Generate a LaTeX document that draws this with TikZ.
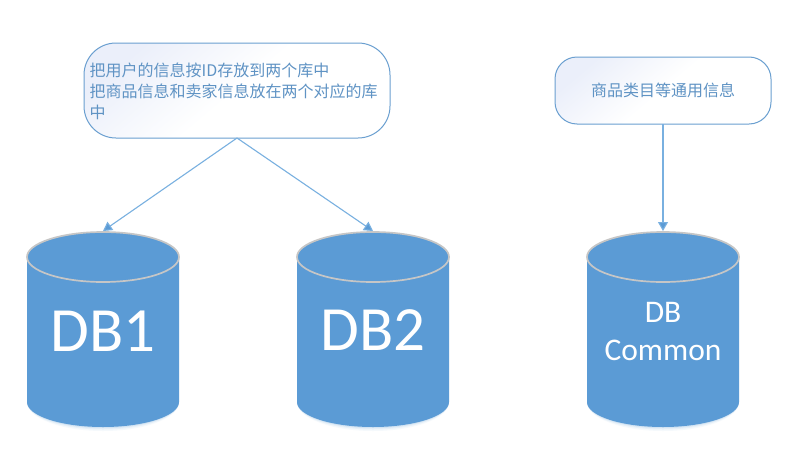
\documentclass[tikz,border=0pt]{standalone}
\usepackage{fontspec}
\setmainfont{Carlito}
\newfontfamily\cjk{Noto Sans CJK SC}
\usetikzlibrary{arrows.meta}
\definecolor{dbblue}{HTML}{5B9BD5}
\definecolor{boxtext}{HTML}{5F93C4}
\definecolor{boxedge}{HTML}{6A9FD0}
\definecolor{linkblue}{HTML}{79B0E0}
\definecolor{rimgrey}{HTML}{C6C6C6}
\definecolor{boxtint}{HTML}{EBEFFA}
\tikzset{
 x=1pt,y=-1pt,
 infobox/.style={draw=boxedge,line width=1pt,rounded corners=#1,top color=boxtint,bottom color=white,middle color=white,shading angle=40},
 boxlabel/.style={text=boxtext,font=\fontsize{16}{21}\selectfont\cjk,inner sep=0pt,align=left},
 dblabel/.style={text=white,inner sep=0pt,align=center},
 link/.style={draw=linkblue,line width=1.1pt,-{Triangle[length=9pt,width=10pt,fill=dbblue]}},
}
\newcommand{\dbcyl}[2]{%
 \foreach \g/\o in {4/0.06,2.5/0.09,1.2/0.14}{\fill[dbblue,opacity=\o] (#1-76,402) arc[x radius=76,y radius=25+\g,start angle=180,end angle=0] -- cycle;}
 \fill[dbblue] (#1-76,257) -- (#1-76,402) arc[x radius=76,y radius=25,start angle=180,end angle=0] -- (#1+76,257) -- cycle;
 \draw[rimgrey,fill=dbblue,line width=1.7pt] (#1,257) ellipse[x radius=76,y radius=25];
 \coordinate (#2) at (#1,231);
}
\begin{document}
\begin{tikzpicture}
\useasboundingbox (0,0) rectangle (802,463);
\fill[white] (0,0) rectangle (802,463);
\path[infobox=32pt] (84,43) rectangle (390,138);
\path[infobox=22pt] (555,57) rectangle (771,124);
\coordinate (boxa) at (237,138);
\coordinate (boxb) at (663,124);
\node[boxlabel,anchor=north west,text width=300pt] (ta) at (89.5,63) {把用户的信息按ID存放到两个库中\\把商品信息和卖家信息放在两个对应的库\\中};
\node[boxlabel] (tb) at (663,90.5) {商品类目等通用信息};
\dbcyl{103}{topa}
\dbcyl{373}{topb}
\dbcyl{663}{topc}
\draw[link] (boxa) -- (topa);
\draw[link] (boxa) -- (topb);
\draw[link] (boxb) -- (topc);
\node[dblabel,font=\fontsize{63}{63}\selectfont] (da) at (103,331) {DB1};
\node[dblabel,font=\fontsize{63}{63}\selectfont] (db) at (373,330) {DB2};
\node[dblabel,font=\fontsize{31.5}{38}\selectfont] (dc) at (663,331) {DB\\Common};
\end{tikzpicture}
\end{document}
